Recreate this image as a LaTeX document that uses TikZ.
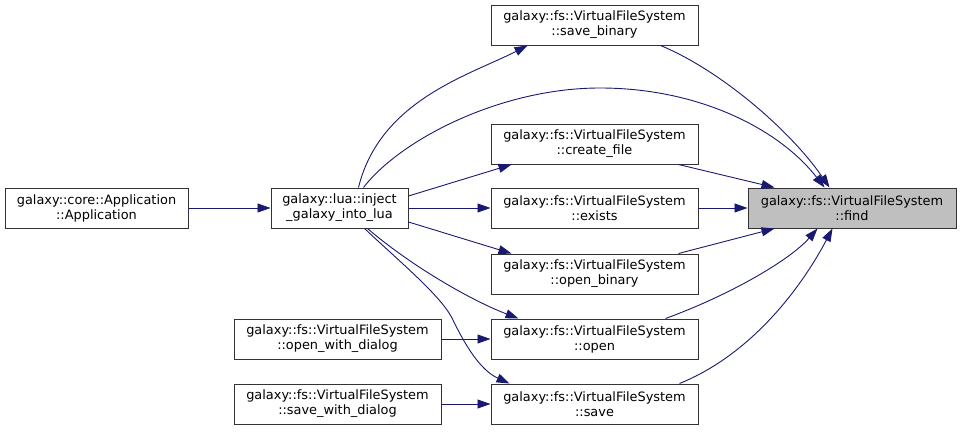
\documentclass[tikz,border=0pt]{standalone}
\usepackage{fontspec}
\setmainfont{DejaVu Sans}
\usetikzlibrary{arrows.meta}
\definecolor{edgecol}{HTML}{191970}
\definecolor{boxline}{HTML}{333333}
\definecolor{rootfill}{HTML}{BFBFBF}
\begin{document}
\begin{tikzpicture}[x=1pt,y=-1pt,
  box/.style={draw=boxline, line width=1pt, fill=white, minimum width=207pt, minimum height=40pt,
    inner sep=0pt, align=center, font=\fontsize{12.9}{15}\selectfont},
  rootbox/.style={box, fill=rootfill},
  edge/.style={draw=edgecol, line width=0.9pt, -{Triangle[length=13pt,width=9pt]}, fill=none},
]
\useasboundingbox (0,0) rectangle (961,431);
\node[box, minimum width=183pt] (app) at (96.5,208) {galaxy::core::Application\\::Application};
\node[box, minimum width=137pt] (inject) at (339.5,208) {galaxy::lua::inject\\\_galaxy\_into\_lua};
\node[box] (saveb) at (594.5,25) {galaxy::fs::VirtualFileSystem\\::save\_binary};
\node[box] (createf) at (594.5,144) {galaxy::fs::VirtualFileSystem\\::create\_file};
\node[box] (exists) at (594.5,208) {galaxy::fs::VirtualFileSystem\\::exists};
\node[box] (openb) at (594.5,274) {galaxy::fs::VirtualFileSystem\\::open\_binary};
\node[box] (open) at (594.5,339) {galaxy::fs::VirtualFileSystem\\::open};
\node[box] (save) at (594.5,404) {galaxy::fs::VirtualFileSystem\\::save};
\node[box] (openwd) at (337.5,339) {galaxy::fs::VirtualFileSystem\\::open\_with\_dialog};
\node[box] (savewd) at (337.5,404) {galaxy::fs::VirtualFileSystem\\::save\_with\_dialog};
\node[rootbox, minimum width=208pt] (find) at (852,208) {galaxy::fs::VirtualFileSystem\\::find};

\draw[edge] (app.east) -- (inject.west);
\draw[edge] ([xshift=19pt]inject.north) .. controls (380,100) and (470,75) .. ([xshift=37pt]saveb.south west);
\draw[edge] ([xshift=24pt]inject.north) .. controls (400,140) and (500,88) .. (600,88)
  .. controls (700,88) and (780,130) .. ([xshift=77pt]find.north west);
\draw[edge] ([xshift=-38pt]saveb.south east) .. controls (720,70) and (790,130) .. ([xshift=82pt]find.north west);
\draw[edge] ([yshift=12pt]inject.east) -- ([xshift=21pt]createf.south west);
\draw[edge] ([xshift=-20pt]createf.south east) -- ([xshift=27pt]find.north west);
\draw[edge] (inject.east) -- (exists.west);
\draw[edge] (exists.east) -- (find.west);
\draw[edge] ([yshift=-14pt]inject.east) -- ([xshift=21pt]openb.north west);
\draw[edge] ([xshift=-20pt]openb.north east) -- ([xshift=27pt]find.south west);
\draw[edge] ([xshift=28pt]inject.south) .. controls (410,265) and (470,300) .. ([xshift=28pt]open.north west);
\draw[edge] ([xshift=-33pt]open.north east) .. controls (730,295) and (790,260) .. ([xshift=70pt]find.south west);
\draw[edge] ([xshift=25pt]inject.south) .. controls (400,262) and (440,295) .. (452,318)
  .. controls (465,345) and (480,370) .. ([xshift=19pt]save.north west);
\draw[edge] ([xshift=-19pt]save.north east) .. controls (750,355) and (800,290) .. ([xshift=85pt]find.south west);
\draw[edge] (openwd.east) -- (open.west);
\draw[edge] (savewd.east) -- (save.west);
\end{tikzpicture}
\end{document}
